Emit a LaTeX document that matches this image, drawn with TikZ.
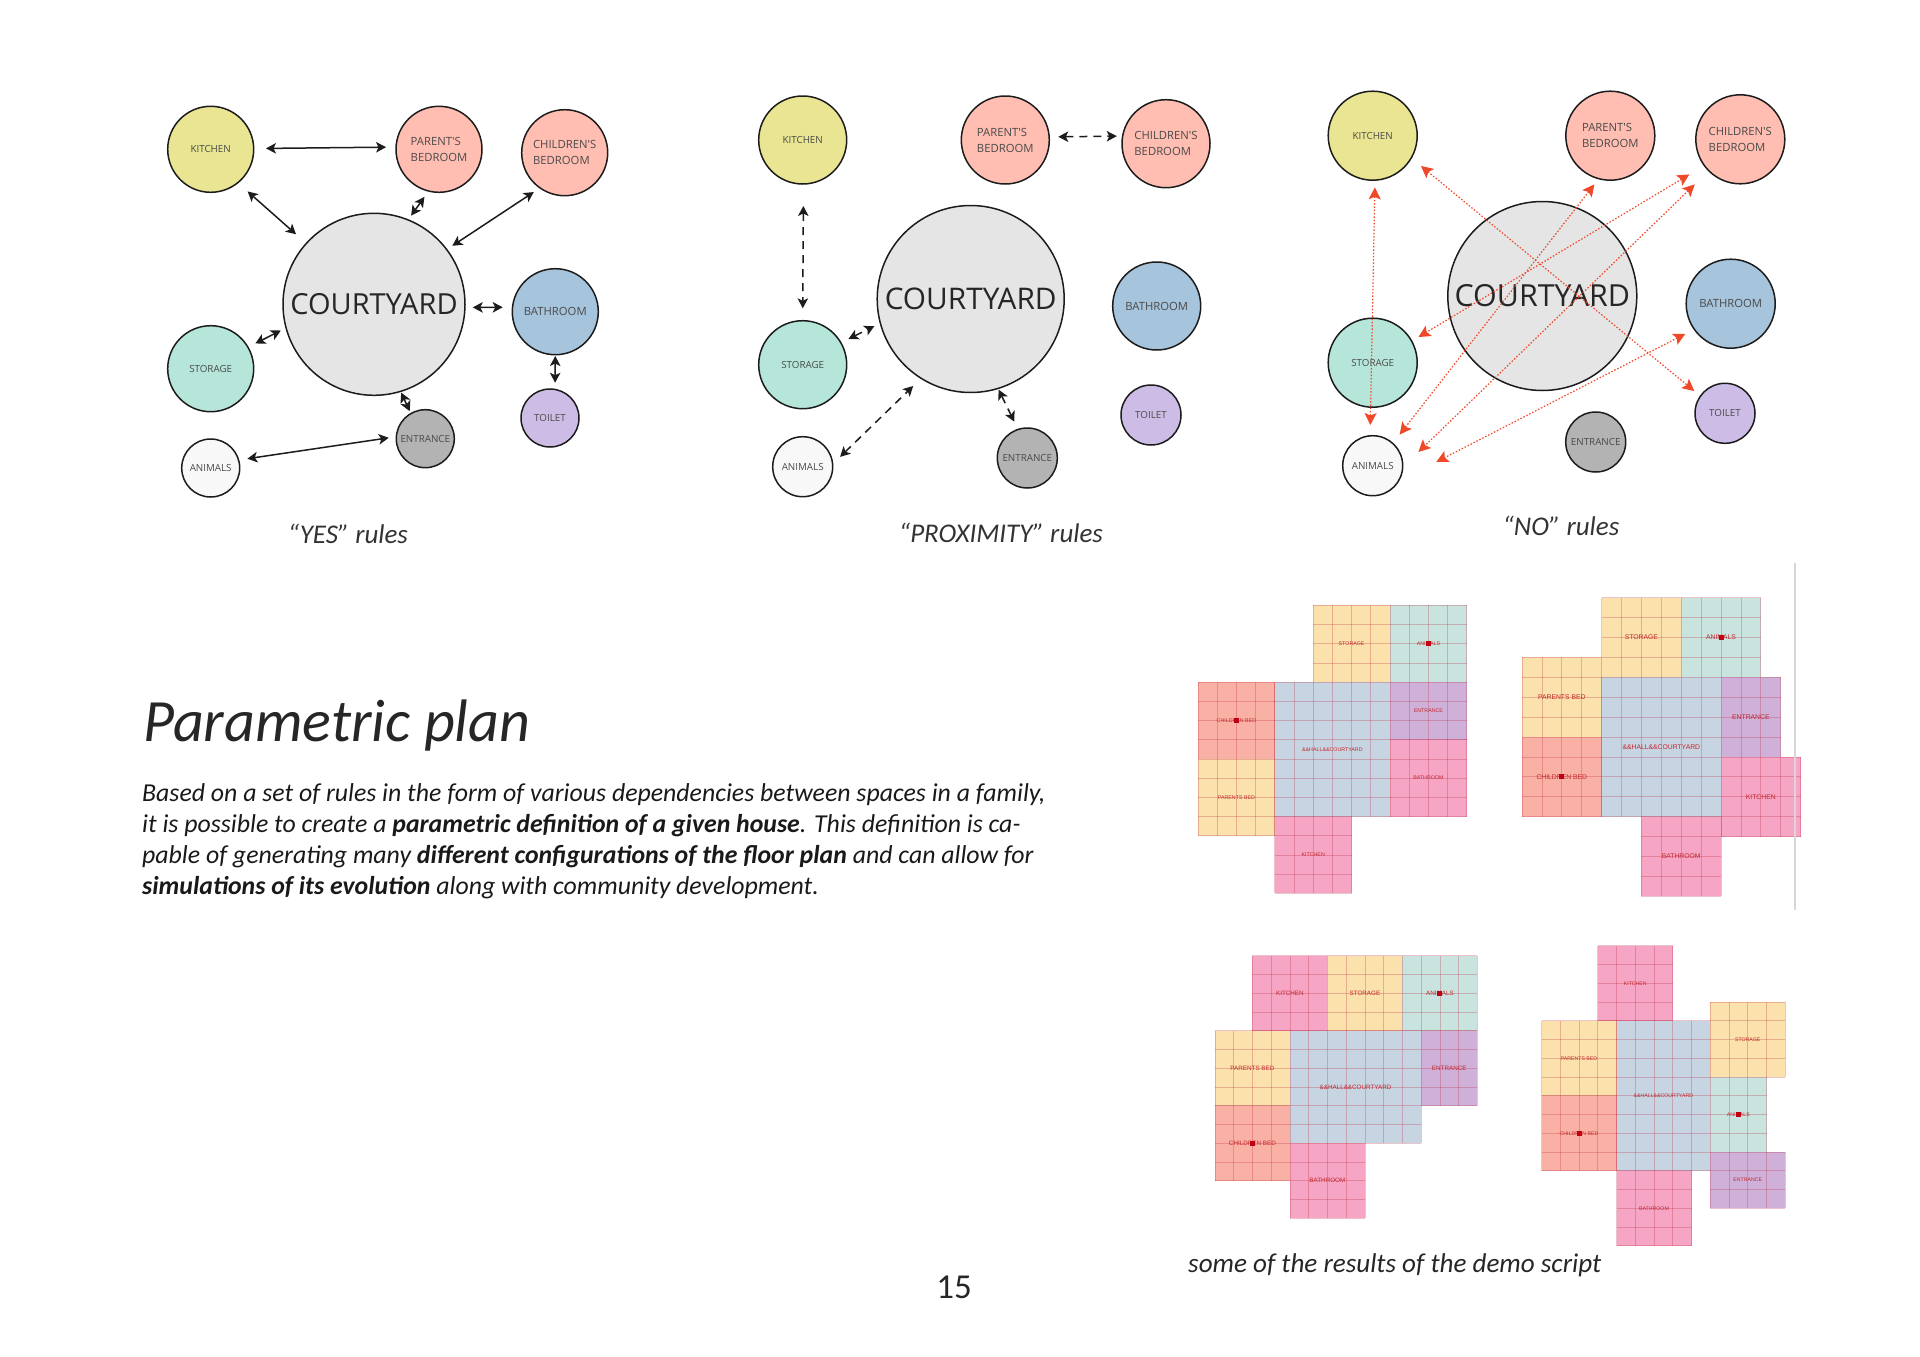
\documentclass[tikz,border=0pt]{standalone}
\usepackage{fontspec}
\usepackage{xcolor}
\usetikzlibrary{arrows.meta,calc}
\setmainfont{Carlito}
\newfontfamily\roomfont{Open Sans}
\newfontfamily\planfont{Liberation Sans}
\definecolor{roomLine}{HTML}{1C1C1C}
\definecolor{roomText}{HTML}{4A4A4A}
\definecolor{roomKitchen}{HTML}{E9E592}
\definecolor{roomBedroom}{HTML}{FFBEB1}
\definecolor{roomCourtyard}{HTML}{E5E5E5}
\definecolor{roomBathroom}{HTML}{A6C4DC}
\definecolor{roomStorage}{HTML}{B6E5DA}
\definecolor{roomToilet}{HTML}{CDBDE6}
\definecolor{roomEntrance}{HTML}{B3B3B3}
\definecolor{roomAnimals}{HTML}{F8F8F8}
\definecolor{ruleNo}{HTML}{F0492A}
\definecolor{planLine}{HTML}{B8283F}
\definecolor{planText}{HTML}{C2272D}
\definecolor{planDot}{HTML}{C00010}
\definecolor{planYellow}{HTML}{FBE1AC}
\definecolor{planTeal}{HTML}{C9E3DF}
\definecolor{planSalmon}{HTML}{FAB1A5}
\definecolor{planBlue}{HTML}{C7D4E2}
\definecolor{planPurple}{HTML}{CFB0D8}
\definecolor{planPink}{HTML}{F6A6C4}
\definecolor{pageRule}{HTML}{DDD3DA}
\tikzset{
  room/.style 2 args={circle, draw=roomLine, line width=1.5pt, fill=#1, minimum size=#2pt,
    inner sep=0pt, outer sep=0pt, text=roomText, align=left},
  labelsmall/.style={font=\roomfont\fontsize{9.8}{16}\selectfont},
  labelbig/.style={font=\roomfont\fontsize{11.3}{16}\selectfont},
  labelcourt/.style={font=\roomfont\fontsize{#1}{34}\selectfont, text=black!85},
  yesarrow/.style={{Stealth[length=10pt,width=10.5pt,inset=2.5pt]}-{Stealth[length=10pt,width=10.5pt,inset=2.5pt]}, line width=1.5pt, draw=roomLine},
  proxarrow/.style={yesarrow, dash pattern=on 8pt off 6pt},
  noarrow/.style={{Stealth[length=12pt,width=12pt,inset=2.5pt]}-{Stealth[length=12pt,width=12pt,inset=2.5pt]},
    line width=1.2pt, draw=ruleNo, dash pattern=on 1.5pt off 1.8pt},
  caption/.style={font=\itshape\fontsize{27}{30}\selectfont, text=black!80, inner sep=0pt},
  planlabel/.style={text=planText, inner sep=0pt},
  plandot/.style={rectangle, fill=planDot, inner sep=0pt, minimum size=5pt},
  planrule/.style={draw=planLine, draw opacity=0.28, line width=0.7pt},
}
% one room of a floor plan: name, column, row, columns, rows, colour, label
\newcommand{\planroom}[7]{
  \fill[#6] (#2,#3) rectangle ++(#4,#5);
  \foreach \col in {0,...,#4} \draw[planrule] (#2+\col,#3) -- ++(0,#5);
  \foreach \row in {0,...,#5} \draw[planrule] (#2,#3+\row) -- ++(#4,0);
  \node[planlabel] (#1) at ($(#2,#3)+0.5*(#4,#5)$) {#7};
}

\begin{document}
\begin{tikzpicture}[x=1pt,y=-1pt]
  \useasboundingbox (0,0) rectangle (1920,1357);

  % YES rules
  \node[room={roomCourtyard}{182}, labelcourt=29] (yesCourt) at (374,304.3) {COURTYARD};
  \node[room={roomKitchen}{86}, labelsmall] (yesKitchen) at (210.7,149.3) {KITCHEN};
  \node[room={roomBedroom}{86}, labelbig] (yesParent) at (439,149.3) {PARENT'S\\BEDROOM};
  \node[room={roomBedroom}{86}, labelbig] (yesChild) at (564.7,152.7) {CHILDREN'S\\BEDROOM};
  \node[room={roomBathroom}{86}, labelbig] (yesBath) at (555.3,311.7) {BATHROOM};
  \node[room={roomStorage}{86}, labelsmall] (yesStorage) at (210.7,368.7) {STORAGE};
  \node[room={roomToilet}{58}, labelsmall] (yesToilet) at (550,418) {TOILET};
  \node[room={roomEntrance}{58}, labelsmall] (yesEntrance) at (425.3,438.7) {ENTRANCE};
  \node[room={roomAnimals}{58}, labelsmall] (yesAnimals) at (210.7,468) {ANIMALS};
  \draw[yesarrow, shorten <=12.3pt, shorten >=10pt] (yesKitchen.1) -- (yesParent.177);
  \draw[yesarrow, shorten <=13.2pt, shorten >=13.8pt] (yesKitchen.-51.6) -- (yesCourt.138);
  \draw[yesarrow, shorten <=7.2pt, shorten >=5.2pt] (yesParent.-104.4) -- (yesCourt.68.8);
  \draw[yesarrow, shorten <=7.5pt, shorten >=6.8pt] (yesChild.-125.7) -- (yesCourt.37.7);
  \draw[yesarrow, shorten <=7.8pt, shorten >=9.8pt] (yesCourt.-2.1) -- (yesBath.174.7);
  \draw[yesarrow, shorten <=8.3pt, shorten >=5.9pt] (yesStorage.30) -- (yesCourt.-165.4);
  \draw[yesarrow, shorten <=1.3pt, shorten >=6.7pt] (yesBath.-90) -- (yesToilet.80);
  \draw[yesarrow, shorten <=1.4pt, shorten >=2.7pt] (yesCourt.-73.3) -- (yesEntrance.120.8);
  \draw[yesarrow, shorten <=8.9pt, shorten >=7.7pt] (yesAnimals.16) -- (yesEntrance.176.5);
  \node[caption] (yesCaption) at (348,534) {“YES” rules};

  % PROXIMITY rules
  \node[room={roomCourtyard}{187}, labelcourt=29.8] (proxCourt) at (970.7,299) {COURTYARD};
  \node[room={roomKitchen}{88}, labelsmall] (proxKitchen) at (802.7,140) {KITCHEN};
  \node[room={roomBedroom}{88}, labelbig] (proxParent) at (1005.3,140) {PARENT'S\\BEDROOM};
  \node[room={roomBedroom}{88}, labelbig] (proxChild) at (1166,143.7) {CHILDREN'S\\BEDROOM};
  \node[room={roomBathroom}{88}, labelbig] (proxBath) at (1156.7,306) {BATHROOM};
  \node[room={roomStorage}{88}, labelsmall] (proxStorage) at (802.7,364.7) {STORAGE};
  \node[room={roomToilet}{60}, labelsmall] (proxToilet) at (1151,415) {TOILET};
  \node[room={roomEntrance}{60}, labelsmall] (proxEntrance) at (1027.3,458) {ENTRANCE};
  \node[room={roomAnimals}{60}, labelsmall] (proxAnimals) at (802.7,466.7) {ANIMALS};
  \draw[proxarrow, shorten <=9.1pt, shorten >=5.9pt] (proxParent.4.3) -- (proxChild.170.8);
  \draw[proxarrow, shorten <=22pt, shorten >=12.4pt] (proxKitchen.-89) -- (proxStorage.90);
  \draw[proxarrow, shorten <=8.5pt, shorten >=6.8pt] (proxStorage.30) -- (proxCourt.-165.9);
  \draw[proxarrow, shorten <=10.4pt, shorten >=11.1pt] (proxAnimals.5.2) -- (proxCourt.-122.4);
  \draw[proxarrow, shorten <=1.4pt, shorten >=8.7pt] (proxCourt.-73.7) -- (proxEntrance.108);
  \node[caption] (proxCaption) at (1001,533) {“PROXIMITY” rules};

  % NO rules
  \node[room={roomCourtyard}{189}, labelcourt=30.4] (noCourt) at (1542.3,296) {COURTYARD};
  \node[room={roomKitchen}{89}, labelsmall] (noKitchen) at (1372.7,135.7) {KITCHEN};
  \node[room={roomBedroom}{89}, labelbig] (noParent) at (1610.3,135.7) {PARENT'S\\BEDROOM};
  \node[room={roomBedroom}{89}, labelbig] (noChild) at (1740.3,139.3) {CHILDREN'S\\BEDROOM};
  \node[room={roomBathroom}{89}, labelbig] (noBath) at (1730.7,303.7) {BATHROOM};
  \node[room={roomStorage}{89}, labelsmall] (noStorage) at (1372.7,362.7) {STORAGE};
  \node[room={roomToilet}{60}, labelsmall] (noToilet) at (1725,413.3) {TOILET};
  \node[room={roomEntrance}{60}, labelsmall] (noEntrance) at (1595.7,442) {ENTRANCE};
  \node[room={roomAnimals}{60}, labelsmall] (noAnimals) at (1372.7,465.7) {ANIMALS};
  \draw[noarrow, shorten <=7.2pt, shorten >=10.8pt] (noKitchen.-87) -- (noAnimals.95);
  \draw[noarrow, shorten <=12.6pt, shorten >=7.9pt] (noKitchen.-30) -- (noToilet.145);
  \draw[noarrow, shorten <=7.2pt, shorten >=11.2pt] (noParent.-105.1) -- (noAnimals.48.9);
  \draw[noarrow, shorten <=17.4pt, shorten >=8pt] (noChild.-144.8) -- (noStorage.29.5);
  \draw[noarrow, shorten <=19.6pt, shorten >=21.9pt] (noChild.-135) -- (noAnimals.-3.4);
  \draw[noarrow, shorten <=10pt, shorten >=42.9pt] (noBath.-145.8) -- (noAnimals.-32.9);
  \node[caption] (noCaption) at (1561,526) {“NO” rules};

  % text block
  \node[font=\itshape\fontsize{60}{64}\selectfont, text=black!85, anchor=base west, inner sep=0pt] (planTitle) at (143,741) {Parametric plan};
  \node[font=\itshape\fontsize{25.8}{31}\selectfont, text=black!90, anchor=base west, align=left, inner sep=0pt] (planBody) at (142,894.5)
    {Based on a set of rules in the form of various dependencies between spaces in a family,\\
     it is possible to create a \textbf{parametric definition of a given house}. This definition is ca-\\
     pable of generating many \textbf{different configurations of the floor plan} and can allow for\\
     \textbf{simulations of its evolution} along with community development.};

  % floor plans
  \begin{scope}[shift={(1198,605.3)}, x=19.2pt, y=-19.2pt, every node/.append style={font=\planfont\fontsize{5.3}{6}\selectfont}]
    \planroom{aStorage}{6}{0}{4}{4}{planYellow}{STORAGE}
    \planroom{aAnimals}{10}{0}{4}{4}{planTeal}{ANIMALS}
    \planroom{aChild}{0}{4}{4}{4}{planSalmon}{CHILDREN BED}
    \planroom{aParent}{0}{8}{4}{4}{planYellow}{PARENTS BED}
    \planroom{aHall}{4}{4}{6}{7}{planBlue}{\&\&HALL\&\&COURTYARD}
    \planroom{aEntrance}{10}{4}{4}{3}{planPurple}{ENTRANCE}
    \planroom{aBath}{10}{7}{4}{4}{planPink}{BATHROOM}
    \planroom{aKitchen}{4}{11}{4}{4}{planPink}{KITCHEN}
    \node[plandot] (aDotOne) at (aChild) {};
    \node[plandot] (aDotTwo) at (aAnimals) {};
  \end{scope}
  \begin{scope}[shift={(1522,597.7)}, x=19.9pt, y=-19.9pt, every node/.append style={font=\planfont\fontsize{6.8}{8}\selectfont}]
    \planroom{bStorage}{4}{0}{4}{4}{planYellow}{STORAGE}
    \planroom{bAnimals}{8}{0}{4}{4}{planTeal}{ANIMALS}
    \planroom{bParent}{0}{3}{4}{4}{planYellow}{PARENTS BED}
    \planroom{bChild}{0}{7}{4}{4}{planSalmon}{CHILDREN BED}
    \planroom{bHall}{4}{4}{6}{7}{planBlue}{\&\&HALL\&\&COURTYARD}
    \planroom{bEntrance}{10}{4}{3}{4}{planPurple}{ENTRANCE}
    \planroom{bKitchen}{10}{8}{4}{4}{planPink}{KITCHEN}
    \planroom{bBath}{6}{11}{4}{4}{planPink}{BATHROOM}
    \node[plandot] (bDotOne) at (bChild) {};
    \node[plandot] (bDotTwo) at (bAnimals) {};
  \end{scope}
  \begin{scope}[shift={(1214.9,955.7)}, x=18.75pt, y=-18.75pt, every node/.append style={font=\planfont\fontsize{6.3}{8}\selectfont}]
    \planroom{cKitchen}{2}{0}{4}{4}{planPink}{KITCHEN}
    \planroom{cStorage}{6}{0}{4}{4}{planYellow}{STORAGE}
    \planroom{cAnimals}{10}{0}{4}{4}{planTeal}{ANIMALS}
    \planroom{cParent}{0}{4}{4}{4}{planYellow}{PARENTS BED}
    \planroom{cChild}{0}{8}{4}{4}{planSalmon}{CHILDREN BED}
    \planroom{cHall}{4}{4}{7}{6}{planBlue}{\&\&HALL\&\&COURTYARD}
    \planroom{cEntrance}{11}{4}{3}{4}{planPurple}{ENTRANCE}
    \planroom{cBath}{4}{10}{4}{4}{planPink}{BATHROOM}
    \node[plandot] (cDotOne) at (cChild) {};
    \node[plandot] (cDotTwo) at (cAnimals) {};
  \end{scope}
  \begin{scope}[shift={(1541.5,945.7)}, x=18.75pt, y=-18.75pt, every node/.append style={font=\planfont\fontsize{5.2}{6}\selectfont}]
    \planroom{dKitchen}{3}{0}{4}{4}{planPink}{KITCHEN}
    \planroom{dParent}{0}{4}{4}{4}{planYellow}{PARENTS BED}
    \planroom{dChild}{0}{8}{4}{4}{planSalmon}{CHILDREN BED}
    \planroom{dHall}{4}{4}{5}{8}{planBlue}{\&\&HALL\&\&COURTYARD}
    \planroom{dStorage}{9}{3}{4}{4}{planYellow}{STORAGE}
    \planroom{dAnimals}{9}{7}{3}{4}{planTeal}{ANIMALS}
    \planroom{dEntrance}{9}{11}{4}{3}{planPurple}{ENTRANCE}
    \planroom{dBath}{4}{12}{4}{4}{planPink}{BATHROOM}
    \node[plandot] (dDotOne) at (dChild) {};
    \node[plandot] (dDotTwo) at (dAnimals) {};
  \end{scope}
  \draw[draw=pageRule, line width=1.2pt] (1795,563) -- (1795,910);
  \node[font=\itshape\fontsize{27.1}{30}\selectfont, text=black!85, anchor=base west, inner sep=0pt] (planCaption) at (1188,1272.5) {some of the results of the demo script};
  \node[font=\fontsize{35}{40}\selectfont, text=black!85, inner sep=0pt] (pageNumber) at (954,1287) {15};
\end{tikzpicture}
\end{document}
